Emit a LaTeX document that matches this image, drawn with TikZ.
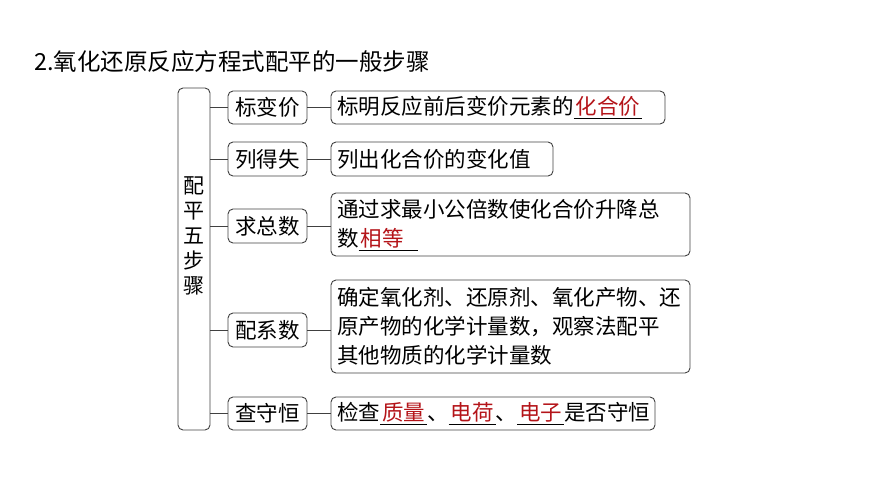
\documentclass[tikz,border=0pt]{standalone}
\usepackage{fontspec}
\newfontfamily\cjk{Noto Sans CJK SC}
\definecolor{ansred}{RGB}{180,20,25}
\newcommand{\blank}[1]{\underline{\hspace{2pt}\textcolor{ansred}{#1}\hspace{2pt}}}
\begin{document}
\begin{tikzpicture}[x=1pt,y=-1pt,
  bx/.style={draw=black!75,line width=0.9pt,rounded corners=5pt},
  txt/.style={font=\cjk\fontsize{21.5}{29}\selectfont,anchor=west,inner sep=0pt,align=left},
  ln/.style={draw=black!75,line width=0.9pt}]
\useasboundingbox (0,0) rectangle (870,489);
\node[anchor=west,inner sep=0pt,font=\cjk\fontsize{23.5}{26}\selectfont] (title) at (34,62) {2.氧化还原反应方程式配平的一般步骤};
\draw[bx] (178,88) rectangle (210,430);
\node[font=\cjk\fontsize{21}{25}\selectfont,align=center,inner sep=0pt] (left) at (194,236) {配\\平\\五\\步\\骤};
\foreach \n/\t/\ya/\yb in {s1/标变价/91/124, s2/列得失/142/176, s3/求总数/209/243, s4/配系数/313/347, s5/查守恒/397/430}{
  \draw[bx] (228,\ya) rectangle (307,\yb);
  \node[txt,anchor=center] (\n) at (267.5,{(\ya+\yb)/2}) {\t};
  \draw[ln] (210,{(\ya+\yb)/2}) -- (228,{(\ya+\yb)/2});
  \draw[ln] (307,{(\ya+\yb)/2}) -- (331,{(\ya+\yb)/2});
}
\draw[bx] (331,91) rectangle (665,124);
\node[txt] (c1) at (337,107.5) {标明反应前后变价元素的\blank{化合价}};
\draw[bx] (331,142) rectangle (553,176);
\node[txt] (c2) at (337,159) {列出化合价的变化值};
\draw[bx] (331,193) rectangle (690,256);
\node[txt] (c3) at (337,225) {通过求最小公倍数使化合价升降总\\数\blank{相等\hspace{12pt}}};
\draw[bx] (331,280) rectangle (690,373);
\node[txt] (c4) at (337,326.5) {确定氧化剂、还原剂、氧化产物、还\\原产物的化学计量数，观察法配平\\其他物质的化学计量数};
\draw[bx] (331,397) rectangle (655,430);
\node[txt] (c5) at (337,413.5) {检查\blank{质量}、\blank{电荷}、\blank{电子}是否守恒};
\end{tikzpicture}
\end{document}
